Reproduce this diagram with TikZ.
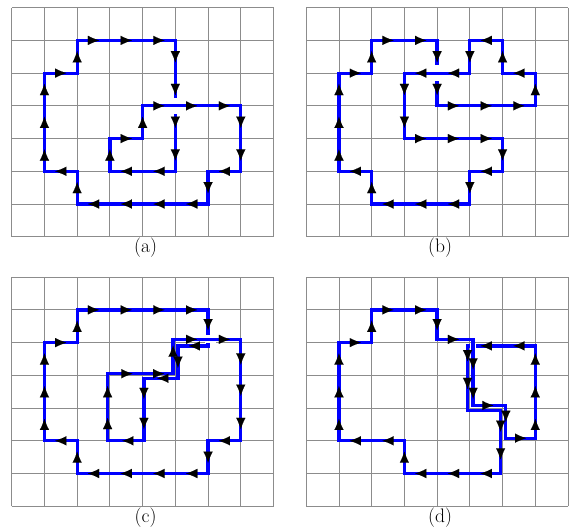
\documentclass[tikz,border=0pt]{standalone}
\usetikzlibrary{arrows.meta}
\tikzset{
  gridl/.style={draw=black!45, line width=0.7pt},
  loopl/.style={draw=blue, line width=0.1cm},
  ahd/.style={draw=black, line width=0.01pt, -{Latex[length=3.4mm,width=2.8mm]}},
  halo/.style={draw=white, line width=0.2cm},
  lab/.style={font=\fontsize{17}{20}\selectfont, anchor=north, inner sep=0pt},
}
\begin{document}
\begin{tikzpicture}
\useasboundingbox (-0.358,-0.77) rectangle (17.03,15.47);
% ---------------- (a)
\begin{scope}[shift={(0,8.235)}]
  \draw[gridl] (0,0) grid (8,7);
  \draw[loopl] (2,6) -- (5,6) -- (5,2) -- (3,2) -- (3,3) -- (4,3) -- (4,4) -- (7,4) -- (7,2) -- (6,2) -- (6,1) -- (2,1) -- (2,2) -- (1,2) -- (1,5) -- (2,5) -- cycle;
  \draw[halo] (5,4.25) -- (5,3.75);
  \draw[loopl] (4.8,4) -- (5.2,4);
  \foreach \x/\y/\a in {2.5/6/0, 3.5/6/0, 4.5/6/0,
      5/5.5/270, 5/4.5/270, 5/3.5/270, 5/2.5/270,
      4.5/2/180, 3.5/2/180, 3/2.5/90, 3.5/3/0, 4/3.5/90,
      4.5/4/0, 5.5/4/0, 6.5/4/0, 7/3.5/270, 7/2.5/270,
      6.5/2/180, 6/1.5/270, 5.5/1/180, 4.5/1/180, 3.5/1/180, 2.5/1/180,
      2/1.5/90, 1.5/2/180, 1/2.5/90, 1/3.5/90, 1/4.5/90, 1.5/5/0, 2/5.5/90}
    \draw[ahd] (\x,\y) ++(\a+180:0.17) -- ++(\a:0.34);
  \node[lab] (la) at (4.09,-0.03) {(a)};
\end{scope}
% ---------------- (b)
\begin{scope}[shift={(9,8.235)}]
  \draw[gridl] (0,0) grid (8,7);
  \draw[loopl] (2,6) -- (4,6) -- (4,4) -- (7,4) -- (7,5) -- (6,5) -- (6,6) -- (5,6) -- (5,5) -- (3,5) -- (3,3) -- (6,3) -- (6,2) -- (5,2) -- (5,1) -- (2,1) -- (2,2) -- (1,2) -- (1,5) -- (2,5) -- cycle;
  \draw[halo] (4,5.25) -- (4,4.75);
  \draw[loopl] (3.8,5) -- (4.2,5);
  \foreach \x/\y/\a in {2.5/6/0, 3.5/6/0, 4/5.5/270, 4/4.5/270,
      4.5/4/0, 5.5/4/0, 6.5/4/0, 7/4.5/90, 6.5/5/180, 6/5.5/90, 5.5/6/180, 5/5.5/270,
      4.5/5/180, 3.5/5/180, 3/4.5/270, 3/3.5/270,
      3.5/3/0, 4.5/3/0, 5.5/3/0, 6/2.5/270, 5.5/2/180, 5/1.5/270,
      4.5/1/180, 3.5/1/180, 2.5/1/180, 2/1.5/90, 1.5/2/180,
      1/2.5/90, 1/3.5/90, 1/4.5/90, 1.5/5/0, 2/5.5/90}
    \draw[ahd] (\x,\y) ++(\a+180:0.17) -- ++(\a:0.34);
  \node[lab] (lb) at (4.09,-0.03) {(b)};
\end{scope}
% ---------------- (c)
\begin{scope}[shift={(0,0)}]
  \draw[gridl] (0,0) grid (8,7);
  \draw[loopl] (2,6) -- (6,6) -- (6,4.9) -- (5.08,4.9) -- (5.08,3.91) -- (4.04,3.91) -- (4.04,2) -- (2.93,2) -- (2.93,4.05) -- (4.93,4.05) -- (4.93,5.1) -- (7,5.1) -- (7,2) -- (6,2) -- (6,1) -- (2,1) -- (2,2) -- (1,2) -- (1,5) -- (2,5) -- cycle;
  \draw[halo, line width=0.25cm] (5.9,5.1) -- (6.25,5.1);
  \draw[loopl] (5.85,5.1) -- (6.3,5.1);
  \foreach \x/\y/\a in {2.5/6/0, 3.5/6/0, 4.5/6/0, 5.5/6/0,
      6/5.55/270, 5.58/4.9/180, 5.08/4.4/270, 4.62/3.91/180,
      4.04/3.45/270, 4.04/2.53/270, 3.55/2/180,
      2.93/2.53/90, 2.93/3.5/90, 3.52/4.05/0, 4.49/4.05/0, 4.93/4.74/90,
      5.5/5.1/0, 6.5/5.1/0, 7/4.5/270, 7/3.55/270, 7/2.53/270,
      6.5/2/180, 6/1.5/270, 5.5/1/180, 4.5/1/180, 3.5/1/180, 2.5/1/180,
      2/1.5/90, 1.5/2/180, 1/2.5/90, 1/3.5/90, 1/4.5/90, 1.5/5/0, 2/5.5/90}
    \draw[ahd] (\x,\y) ++(\a+180:0.17) -- ++(\a:0.34);
  \node[lab] (lc) at (4.09,-0.03) {(c)};
\end{scope}
% ---------------- (d)
\begin{scope}[shift={(9,0)}]
  \draw[gridl] (0,0) grid (8,7);
  \draw[loopl] (2,6) -- (4,6) -- (4,5.1) -- (5.1,5.1) -- (5.1,3.08) -- (6.1,3.08) -- (6.1,2.08) -- (7,2.08) -- (7,4.9) -- (4.93,4.9) -- (4.93,2.93) -- (5.94,2.93) -- (5.94,1) -- (3,1) -- (3,2) -- (1,2) -- (1,5) -- (2,5) -- cycle;
  \draw[halo] (5.1,5.0) -- (5.1,4.8);
  \draw[loopl] (5.1,5.02) -- (5.1,4.78);
  \foreach \x/\y/\a in {2.5/6/0, 3.5/6/0, 4/5.55/270, 4.5/5.1/0,
      5.1/4.35/270, 5.1/3.45/270, 5.55/3.08/0, 6.1/2.75/270, 6.55/2.08/0,
      7/2.5/90, 7/3.5/90, 7/4.5/90, 6.5/4.9/180, 5.5/4.9/180,
      4.93/4.6/270, 4.93/3.75/270, 5.94/2.45/270, 5.94/1.6/270,
      5.5/1/180, 4.5/1/180, 3.5/1/180, 3/1.5/90, 2.5/2/180, 1.5/2/180,
      1/2.5/90, 1/3.5/90, 1/4.5/90, 1.5/5/0, 2/5.5/90}
    \draw[ahd] (\x,\y) ++(\a+180:0.17) -- ++(\a:0.34);
  \node[lab] (ld) at (4.09,-0.03) {(d)};
\end{scope}
\end{tikzpicture}
\end{document}
